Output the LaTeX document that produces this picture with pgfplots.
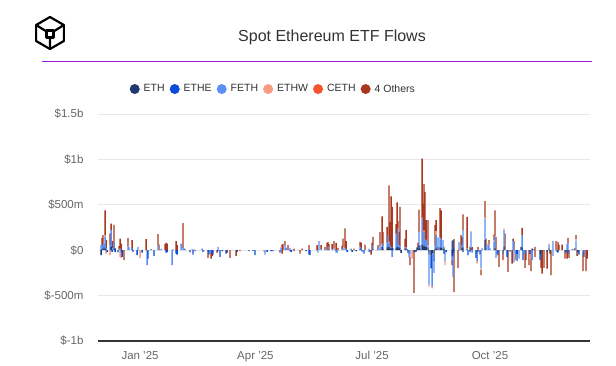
\documentclass[border=0pt]{standalone}
\usepackage{fontspec}
\setmainfont{Liberation Sans}
\usepackage{pgfplots}
\usepackage{pgfplotstable}
\pgfplotsset{compat=1.18}
\definecolor{ethc}{HTML}{1E3A70}
\definecolor{ethec}{HTML}{0B4DD6}
\definecolor{fethc}{HTML}{5C8FF2}
\definecolor{ethwc}{HTML}{F99A82}
\definecolor{cethc}{HTML}{F4532E}
\definecolor{othc}{HTML}{A8371D}
\definecolor{gridc}{HTML}{E8E8E8}
\definecolor{labc}{HTML}{666666}
\definecolor{txtc}{HTML}{333333}
\definecolor{purp}{HTML}{9A1FE0}

% daily net flows in $m, x = days since 1 Jan 2025
\pgfplotstableread{
d eth ethe feth ethw ceth oth
-30.4 0 0 55 0 0 0
-30.4 -40 -15 0 0 0 0
-29.6 10 0 45 0 0 80
-28.9 15 0 30 0 0 120
-28.1 10 20 40 0 0 0
-27.3 20 0 130 10 0 280
-26.5 0 0 20 0 0 90
-26.5 0 0 0 -37 0 0
-25.7 0 -20 0 0 0 0
-23.4 0 0 55 0 0 130
-23.4 0 0 0 -55 0 0
-22.6 40 0 180 0 0 73
-21.8 0 0 20 0 0 80
-21.8 0 -18 0 0 0 0
-20.3 10 80 0 0 0 190
-19.5 20 0 0 0 0 0
-19.5 0 -20 0 0 0 0
-17.2 0 -25 0 0 0 0
-16.4 0 0 10 0 0 34
-15.6 0 0 20 0 0 108
-15.6 0 0 0 -73 0 0
-14.8 0 0 0 0 0 73
-14.8 0 0 -20 -64 0 0
-14.0 -20 -53 0 0 0 0
-12.5 0 0 0 0 0 -110
-9.4 0 0 48 0 0 88
-8.6 0 0 37 0 0 0
-6.2 0 20 0 0 0 90
-5.5 0 -18 0 0 0 0
-2.3 0 -55 0 0 0 0
-1.6 0 0 37 0 0 0
0.0 0 0 0 -84 0 0
1.6 0 -26 0 0 0 0
4.7 0 0 0 0 0 121
5.5 0 0 -165 0 0 0
6.2 0 -92 0 0 0 0
8.6 10 0 0 0 0 0
10.9 0 -62 0 0 0 0
14.0 0 0 55 0 0 121
14.8 0 0 0 0 0 62
16.4 0 0 15 0 0 0
19.5 0 0 0 0 0 66
20.3 0 0 0 0 0 80
20.3 0 -26 0 0 0 0
21.1 0 0 0 0 0 73
21.1 0 -20 0 0 0 0
25.0 0 0 -165 0 0 0
25.7 0 0 0 0 0 10
28.1 0 0 0 0 0 100
28.1 0 -37 0 0 0 0
28.9 0 0 0 0 0 55
28.9 0 -48 0 0 0 0
32.0 0 0 73 0 0 0
33.5 0 0 20 0 0 277
34.3 0 0 25 0 0 0
35.1 10 0 0 0 0 0
39.0 0 -25 0 0 0 0
40.6 0 0 8 0 0 0
41.3 0 -48 0 0 0 0
42.1 0 0 10 0 0 0
42.9 0 0 0 0 0 -10
46.8 0 0 5 0 0 0
48.4 0 0 18 0 0 0
49.1 0 -18 0 0 0 0
49.9 0 0 0 -10 0 0
53.0 0 -20 0 0 0 -64
53.8 0 -48 0 0 0 0
55.4 0 -30 0 0 0 -62
56.2 0 0 0 0 0 -62
56.9 0 -48 0 0 0 0
60.1 0 0 0 0 0 -26
60.8 0 0 37 0 0 0
60.8 0 -10 0 0 0 0
62.4 0 -73 0 0 0 0
64.0 0 -10 0 0 0 0
67.1 0 -37 0 0 0 0
67.9 0 0 0 0 0 -26
70.2 0 0 0 0 0 -84
71.8 0 0 5 0 0 0
74.9 0 0 0 0 0 -62
75.7 -15 0 0 0 0 0
78.0 0 0 0 0 0 -10
85.0 0 -10 0 0 0 0
88.1 0 -8 0 0 0 0
89.7 0 -55 0 0 0 0
96.7 0 0 0 -18 0 0
97.5 0 0 -48 0 0 0
99.1 0 -18 0 0 0 0
102.2 0 -10 0 0 0 0
103.7 0 -10 0 0 0 0
109.2 0 -26 0 0 0 0
110.0 0 0 25 12 0 0
110.8 0 0 0 0 0 62
110.8 0 0 0 0 0 -37
111.5 0 0 0 0 0 66
113.1 0 0 55 0 0 45
113.9 0 0 25 0 0 0
115.4 0 0 0 0 0 55
117.0 0 0 25 0 0 0
117.0 0 -10 0 0 0 0
117.8 0 -18 0 0 0 0
118.6 5 0 0 0 0 0
120.1 0 0 0 0 0 18
120.1 0 0 0 0 0 -10
124.0 5 0 0 0 0 0
124.8 0 0 0 0 0 -37
126.4 0 0 0 0 0 18
129.5 0 -10 0 0 0 0
131.8 0 0 0 0 0 55
131.8 0 -48 0 0 0 0
132.6 0 -55 0 0 0 0
137.3 5 0 0 0 0 0
138.1 0 0 0 0 0 55
138.8 0 0 -26 0 0 0
139.6 0 0 100 0 0 0
141.2 0 0 15 0 0 40
144.3 0 0 0 0 0 37
145.9 0 0 15 0 0 65
146.6 10 0 30 0 0 52
147.4 0 0 0 0 0 66
149.8 0 0 10 0 0 56
151.3 0 0 20 0 0 80
152.9 0 0 0 0 0 80
152.9 0 0 -26 0 0 0
153.7 0 0 -26 0 0 0
154.4 0 0 0 0 0 26
157.6 0 0 10 0 0 38
158.3 0 0 30 0 0 98
159.9 0 0 20 0 0 220
160.7 0 0 15 0 0 85
161.5 0 -18 0 0 0 0
164.6 0 0 18 0 0 0
165.4 0 -18 0 0 0 0
166.9 0 0 0 0 0 18
168.5 -10 0 0 0 0 0
171.6 10 0 30 0 0 52
172.4 0 20 0 0 0 64
173.2 0 0 -18 0 0 0
174.7 0 -37 0 0 0 0
175.5 0 0 0 0 0 62
178.6 0 0 18 0 0 0
178.6 0 0 -18 0 0 0
179.4 -10 0 -16 0 0 0
180.2 0 0 0 0 0 -48
181.0 0 0 0 0 0 80
181.7 10 0 45 0 0 92
184.1 5 0 0 0 0 0
185.6 10 15 0 0 0 30
187.2 10 0 40 0 0 150
188.8 35 0 38 0 0 300
189.5 15 0 30 0 0 155
192.7 20 0 70 0 0 167
193.4 35 0 130 0 0 0
194.2 40 0 35 10 10 620
195.0 20 0 30 0 0 262
195.8 20 0 10 0 0 564
196.6 30 0 0 0 0 447
196.6 0 0 -73 0 0 0
197.4 0 0 20 0 0 0
199.7 20 0 163 0 0 103
200.5 30 0 40 0 0 458
201.2 35 0 203 0 0 81
202.0 20 0 40 0 0 140
202.8 30 0 15 0 0 432
203.6 -30 0 0 0 0 0
206.7 20 0 10 0 0 95
207.5 10 0 20 0 0 190
208.3 10 0 0 0 0 0
209.0 -15 -15 0 0 0 0
209.8 0 0 -80 0 0 0
210.6 0 0 -50 -25 0 -90
212.2 0 0 0 -90 0 0
213.7 -20 0 0 0 0 -450
214.5 -20 0 0 0 0 0
215.3 0 -15 0 0 0 0
216.1 30 0 0 0 0 0
216.9 10 0 20 0 0 54
217.6 50 0 150 0 0 247
218.4 20 0 35 0 0 0
220.0 60 0 290 0 15 644
220.7 40 0 70 0 0 404
221.5 50 0 150 10 10 507
222.3 40 0 80 0 0 522
223.1 40 0 70 0 0 220
224.6 30 0 30 0 0 270
225.4 -20 -30 -330 -20 0 0
227.0 -60 -140 0 0 0 0
227.8 -30 0 -370 -20 0 0
229.3 -50 -70 -130 0 0 0
230.1 10 0 40 0 0 225
230.9 20 0 150 40 0 120
232.4 40 0 100 0 0 0
234.0 30 0 110 0 0 326
234.8 30 0 90 0 0 320
236.3 20 0 95 0 0 0
237.1 20 0 20 0 0 0
237.1 0 -40 0 0 0 0
237.9 0 0 -120 -45 0 0
238.7 0 -20 0 0 0 0
243.4 0 0 100 0 0 0
243.4 -30 -40 -40 0 0 -55
244.1 110 0 0 0 0 0
244.1 0 -60 -233 0 0 0
244.9 20 0 0 0 0 101
244.9 -30 0 0 0 0 -428
248.0 0 0 0 0 0 -194
248.8 10 0 82 0 0 0
250.4 0 0 0 0 0 165
251.2 20 0 40 0 0 87
251.9 30 0 190 0 0 176
251.9 0 -20 0 0 0 0
255.1 10 0 10 0 0 347
255.8 0 -55 0 0 0 0
257.4 0 0 0 0 0 37
257.4 0 -20 0 0 0 0
258.2 20 0 180 9 0 0
259.0 0 0 0 0 0 37
259.0 0 0 -26 0 0 0
262.1 -40 -44 0 0 0 0
262.9 0 0 -120 -27 0 0
263.6 0 0 0 0 0 37
263.6 0 -20 0 0 0 0
265.2 0 -40 0 -15 0 0
266.0 0 0 -200 -20 0 -55
266.8 0 0 20 0 0 0
269.1 110 0 240 0 10 180
269.9 0 40 0 0 0 88
271.4 0 0 60 15 0 0
272.2 0 0 70 0 0 40
273.0 0 0 20 0 0 0
276.1 10 0 80 20 0 62
276.9 20 0 130 0 10 280
277.7 0 0 0 0 0 147
277.7 0 0 -84 0 0 0
278.5 0 0 -40 -20 0 0
279.2 0 -48 0 0 0 0
280.0 0 0 0 0 0 -183
283.1 -40 0 0 0 0 -70
283.9 40 0 180 18 0 0
284.7 0 0 0 0 0 183
286.3 0 -73 0 0 0 0
287.0 0 0 0 0 0 -238
288.6 0 -15 0 0 0 0
290.2 0 0 0 0 0 -147
291.0 0 0 100 0 0 28
291.7 0 0 0 0 0 100
291.7 0 0 -135 0 0 0
293.3 0 -40 0 0 0 -70
294.1 0 -40 -80 0 0 0
295.6 0 0 -92 0 0 0
297.2 37 0 0 0 0 0
298.0 0 30 135 0 0 80
298.7 0 -110 0 0 0 0
300.3 0 -40 0 0 0 -154
301.1 0 0 0 0 0 -110
303.4 0 0 0 0 0 -165
304.2 0 -40 0 -60 0 0
305.0 0 0 0 0 0 -231
305.8 18 0 0 0 0 0
305.8 0 0 -110 0 0 0
307.3 10 0 0 0 0 0
308.1 0 0 0 0 0 37
308.1 0 0 0 0 0 -73
312.0 -60 -50 0 0 0 0
312.8 -40 -30 0 0 0 -124
313.6 0 0 0 0 0 -257
315.1 0 0 0 0 0 -194
317.5 -20 0 0 0 0 -182
319.0 20 0 40 13 0 0
319.8 -20 0 0 0 0 -20
320.6 0 0 0 0 0 -275
322.1 0 0 100 0 0 0
322.1 0 0 -62 0 0 0
324.5 0 0 0 0 0 100
325.3 0 -18 0 0 0 0
326.0 0 0 0 0 0 92
326.0 0 -26 0 0 0 0
326.8 0 0 0 0 0 62
329.2 0 0 0 0 0 62
331.5 -20 0 0 0 0 -72
332.3 0 -26 0 0 0 0
333.1 0 0 73 0 0 0
333.1 0 0 0 0 0 -92
333.8 0 0 73 0 0 63
333.8 0 -37 0 0 0 0
334.6 0 0 0 0 0 -84
337.0 0 0 15 0 0 0
338.5 10 0 0 0 0 0
339.3 0 0 0 0 0 26
340.1 0 0 100 20 0 45
340.9 0 0 0 0 0 -62
341.6 -20 0 -28 0 0 0
342.4 0 -48 0 0 0 0
345.5 0 0 -20 0 0 -211
346.3 0 -73 0 0 0 0
347.9 0 0 0 0 0 -231
348.7 0 0 0 0 0 -92
}\flows

\begin{document}
\begin{tikzpicture}
\fill[white] (0pt,0pt) rectangle (616pt,-365pt);
\path[use as bounding box] (0pt,0pt) rectangle (616pt,-365pt);
% logo
\begin{scope}[shift={(50pt,-33pt)}, line width=2.2pt, line join=round]
\draw (90:16pt) -- (30:16pt) -- (-30:16pt) -- (-90:16pt) -- (-150:16pt) -- (150:16pt) -- cycle;
\draw (150:16pt) -- (-3.5pt,1.5pt) (30:16pt) -- (3.5pt,1.5pt) (-90:16pt) -- (0pt,-4.5pt);
\draw (-3.5pt,-4.5pt) rectangle (3.5pt,2.5pt);
\end{scope}
\node[font=\fontsize{16}{19}\selectfont, text=txtc] at (332pt,-37pt) {Spot Ethereum ETF Flows};
\draw[purp, line width=1pt] (42pt,-61pt) -- (592pt,-61pt);
\begin{axis}[
  at={(98pt,-341pt)}, anchor=south west,
  scale only axis, width=492pt, height=227pt,
  ybar stacked, bar width=1.1,
  xmin=-32.8, xmax=351, ymin=-1000, ymax=1500,
  ytick={-1000,-500,0,500,1000,1500},
  yticklabels={\$-1b,\$-500m,\$0,\$500m,\$1b,\$1.5b},
  xtick={0,90,181,273},
  xticklabels={Jan '25,Apr '25,Jul '25,Oct '25},
  ymajorgrids, grid style={gridc, line width=0.8pt},
  axis x line*=bottom, axis y line*=left,
  y axis line style={draw=none},
  x axis line style={txtc, line width=1.2pt},
  major tick length=0pt,
  tick style={draw=none},
  yticklabel style={font=\fontsize{11.5}{13}\selectfont, text=labc, xshift=-11pt},
  xticklabel style={font=\fontsize{11.5}{13}\selectfont, text=labc, yshift=-7pt},
  legend columns=-1,
  legend style={at={(0.058,1.110)}, anchor=west, draw=none, fill=none,
    font=\fontsize{10.5}{12}\selectfont, text=txtc,
    /tikz/every even column/.append style={column sep=3pt}},
  every axis plot post/.append style={draw=none,
    legend image code/.code={\fill[##1,draw=none] (5pt,0pt) circle (5pt); \path (0pt,0pt) -- (12pt,0pt);}},
]
\addplot[fill=ethc] table[x=d,y=eth] {\flows};
\addlegendentry{ETH}
\addplot[fill=ethec] table[x=d,y=ethe] {\flows};
\addlegendentry{ETHE}
\addplot[fill=fethc] table[x=d,y=feth] {\flows};
\addlegendentry{FETH}
\addplot[fill=ethwc] table[x=d,y=ethw] {\flows};
\addlegendentry{ETHW}
\addplot[fill=cethc] table[x=d,y=ceth] {\flows};
\addlegendentry{CETH}
\addplot[fill=othc] table[x=d,y=oth] {\flows};
\addlegendentry{4 Others}
\end{axis}
\end{tikzpicture}
\end{document}
